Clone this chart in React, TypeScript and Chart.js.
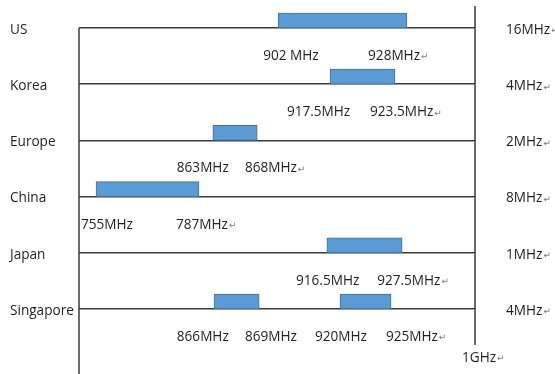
import React, { useEffect, useRef } from "react";
import { Chart, registerables } from "chart.js";

Chart.register(...registerables);

// Rows of the diagram (top to bottom)
const countries = ["US", "Korea", "Europe", "China", "Japan", "Singapore"];
// Bandwidth of each region (right column)
const bandwidths = ["16MHz", "4MHz", "2MHz", "8MHz", "1MHz", "4MHz"];
// Schematic (not to scale) start / end of each drawn band, 0–100 across the diagram
const band1Start = [50.3, 63.4, 33.8, 4.3, 62.6, 34.1];
const band1End = [82.8, 79.8, 45.0, 30.3, 81.6, 45.5];
const band2Start = [null, null, null, null, null, 65.9];
const band2End = [null, null, null, null, null, 78.8];
// Frequency annotations under each row
const freqLabels = [
  ["902 MHz", "928MHz"],
  ["917.5MHz", "923.5MHz"],
  ["863MHz", "868MHz"],
  ["755MHz", "787MHz"],
  ["916.5MHz", "927.5MHz"],
  ["866MHz", "869MHz", "920MHz", "925MHz"],
];
// Where each annotation begins, on the same 0–100 schematic axis
const freqLabelAt = [
  [46.5, 73.0],
  [52.5, 73.5],
  [24.7, 41.9],
  [0.5, 24.5],
  [54.8, 75.3],
  [24.7, 41.9, 59.6, 77.5],
];
const bottomLabel = "1GHz";

const FONT = '13.6px "Open Sans"';
const TEXT = "#1f1f1f";
const RET = "\u21B5";

function drawText(ctx: CanvasRenderingContext2D, text: string, x: number, y: number, mark: boolean) {
  ctx.font = FONT;
  ctx.fillStyle = TEXT;
  ctx.textAlign = "left";
  ctx.textBaseline = "middle";
  ctx.fillText(text, x, y);
  if (mark) {
    const w = ctx.measureText(text).width;
    ctx.font = '9px "DejaVu Sans"';
    ctx.fillStyle = "#7a7a7a";
    ctx.fillText(RET, x + w + 1, y + 1);
  }
}

const diagramPlugin = {
  id: "diagram",
  afterDraw(chart: any) {
    const { ctx, chartArea, scales } = chart;
    const xs = scales.x;
    const ys = scales.y;
    ctx.save();
    // vertical axis lines
    ctx.strokeStyle = "#3a3a3a";
    ctx.lineWidth = 1.5;
    ctx.beginPath();
    ctx.moveTo(chartArea.left, chartArea.top);
    ctx.lineTo(chartArea.left, chart.height);
    ctx.moveTo(chartArea.right, chartArea.top - 22);
    ctx.lineTo(chartArea.right, chartArea.bottom + 36);
    ctx.stroke();

    countries.forEach((c, i) => {
      const y = ys.getPixelForValue(i);
      drawText(ctx, c, 10, y + 2, false);
      drawText(ctx, bandwidths[i], chartArea.right + 31, y + 2, true);
      const labs = freqLabels[i];
      const ly = ys.getPixelForValue(i + 0.5);
      labs.forEach((t, k) => {
        drawText(ctx, t, xs.getPixelForValue(freqLabelAt[i][k]), ly, k === labs.length - 1);
      });
    });
    drawText(ctx, bottomLabel, chartArea.right - 13, chartArea.bottom + 49, true);
    ctx.restore();
  },
};

export default function App() {
  const ref = useRef<HTMLCanvasElement | null>(null);
  useEffect(() => {
    if (!ref.current) return;
    const chart = new Chart(ref.current, {
      type: "bar",
      data: {
        labels: countries,
        datasets: [
          {
            label: "band 1",
            data: band1Start.map((s, i) => [s, band1End[i]]) as any,
            backgroundColor: "#5b9bd5",
            borderColor: "#41719c",
            borderWidth: 1,
            borderSkipped: false,
            stack: "a",
            clip: false as any,
          },
          {
            label: "band 2",
            data: band2Start.map((s, i) => (s === null ? null : [s, band2End[i]])) as any,
            backgroundColor: "#5b9bd5",
            borderColor: "#41719c",
            borderWidth: 1,
            borderSkipped: false,
            stack: "a",
            clip: false as any,
          },
          {
            label: "spacer",
            data: countries.map(() => null) as any,
            backgroundColor: "rgba(0,0,0,0)",
            stack: "b",
          },
        ],
      },
      options: {
        animation: false,
        responsive: false,
        maintainAspectRatio: false,
        indexAxis: "y",
        barThickness: 15,
        layout: { padding: { left: 79, right: 80, top: 28, bottom: 65 } },
        plugins: { legend: { display: false }, tooltip: { enabled: false } },
        scales: {
          x: { type: "linear", min: 0, max: 100, display: false, stacked: false },
          y: {
            type: "category",
            offset: false,
            grid: { offset: false, color: "#3a3a3a", lineWidth: 1.5, drawTicks: false },
            border: { display: false },
            ticks: { display: false },
            afterFit: (s: any) => {
              s.width = 0;
            },
          },
        },
      } as any,
      plugins: [diagramPlugin],
    });
    return () => chart.destroy();
  }, []);
  return (
    <div style={{ position: "absolute", left: 0, top: 0, width: 555, height: 374, background: "#fff" }}>
      <canvas ref={ref} width={555} height={374} style={{ width: 555, height: 374 }} />
    </div>
  );
}
